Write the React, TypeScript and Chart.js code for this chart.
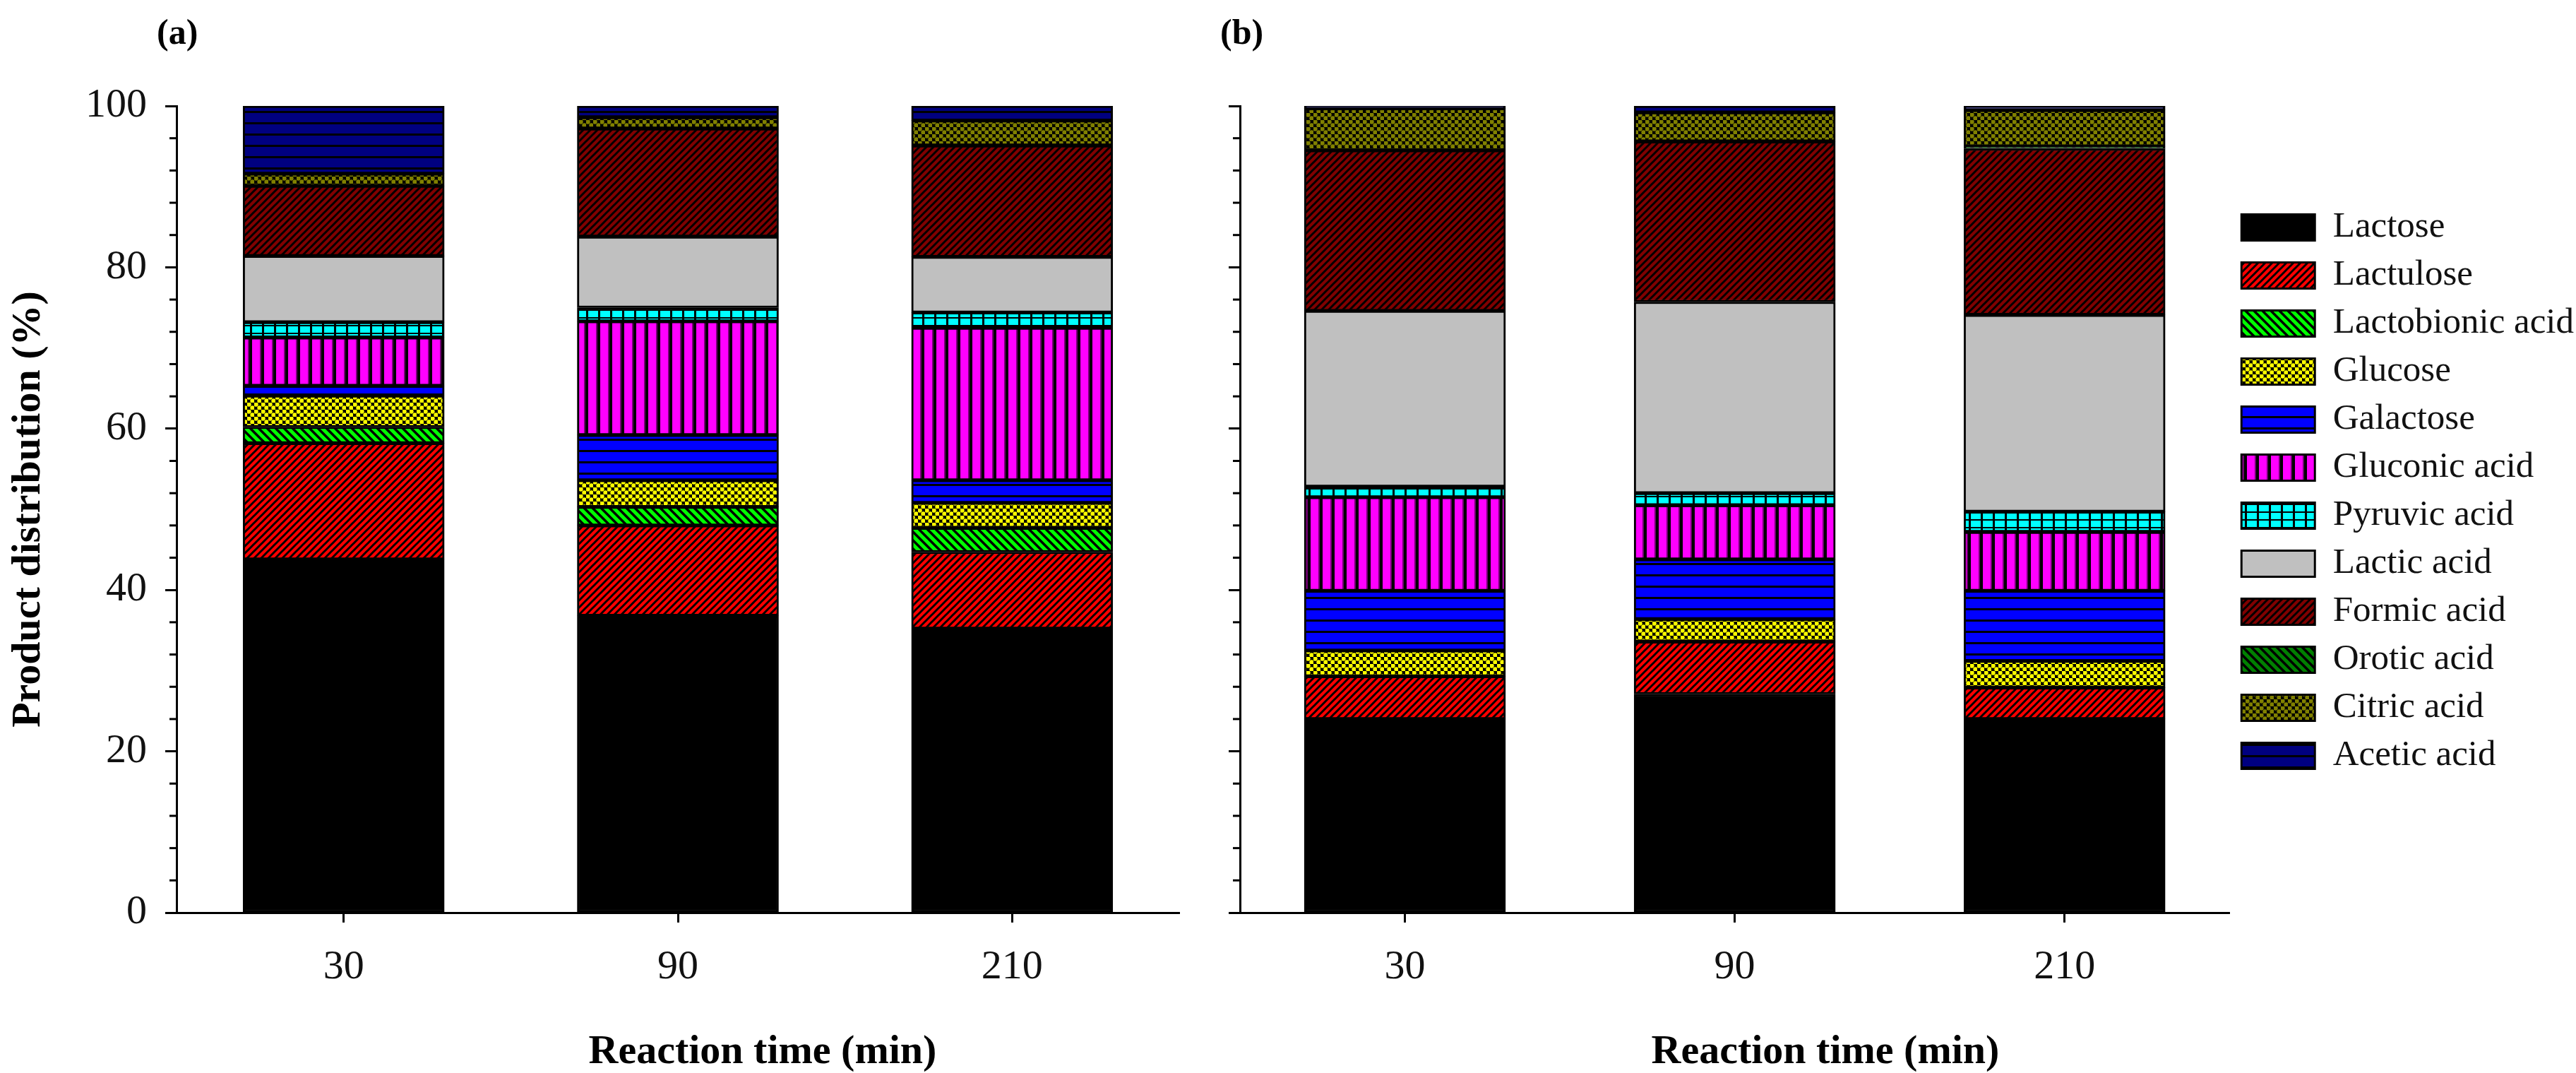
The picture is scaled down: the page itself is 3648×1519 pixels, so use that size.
import React, { useEffect, useRef } from 'react';
import { Chart, registerables } from 'chart.js';

Chart.register(...registerables);

// ---------------- data ----------------
const CATEGORIES = ['30', '90', '210'];
const SERIES_NAMES = [
  'Lactose',
  'Lactulose',
  'Lactobionic acid',
  'Glucose',
  'Galactose',
  'Gluconic acid',
  'Pyruvic acid',
  'Lactic acid',
  'Formic acid',
  'Orotic acid',
  'Citric acid',
  'Acetic acid',
];
const Y_MIN = 0;
const Y_MAX = 100;
const Y_MAJOR_STEP = 20;
const Y_MINOR_STEP = 4;

// Panel (a)
const A_LACTOSE = [43.8, 36.8, 35.2];
const A_LACTULOSE = [14.4, 11.2, 9.5];
const A_LACTOBIONIC = [2.0, 2.3, 3.0];
const A_GLUCOSE = [3.9, 3.3, 3.1];
const A_GALACTOSE = [1.2, 5.6, 2.8];
const A_GLUCONIC = [6.0, 14.1, 18.9];
const A_PYRUVIC = [1.9, 1.7, 1.9];
const A_LACTIC = [8.2, 8.8, 6.9];
const A_FORMIC = [8.7, 13.4, 13.8];
const A_OROTIC = [null, null, null];
const A_CITRIC = [1.5, 1.4, 3.1];
const A_ACETIC = [8.4, 1.4, 1.8];

// Panel (b)
const B_LACTOSE = [24.0, 27.1, 24.0];
const B_LACTULOSE = [5.3, 6.5, 3.9];
const B_LACTOBIONIC = [null, null, null];
const B_GLUCOSE = [3.2, 2.8, 3.3];
const B_GALACTOSE = [7.4, 7.4, 8.7];
const B_GLUCONIC = [11.6, 6.7, 7.3];
const B_PYRUVIC = [1.3, 1.5, 2.5];
const B_LACTIC = [21.8, 23.7, 24.4];
const B_FORMIC = [19.9, 19.9, 20.6];
const B_OROTIC = [null, null, 0.3];
const B_CITRIC = [5.2, 3.6, 4.5];
const B_ACETIC = [0.3, 0.8, 0.5];

const PANEL_A = [A_LACTOSE, A_LACTULOSE, A_LACTOBIONIC, A_GLUCOSE, A_GALACTOSE, A_GLUCONIC, A_PYRUVIC, A_LACTIC, A_FORMIC, A_OROTIC, A_CITRIC, A_ACETIC];
const PANEL_B = [B_LACTOSE, B_LACTULOSE, B_LACTOBIONIC, B_GLUCOSE, B_GALACTOSE, B_GLUCONIC, B_PYRUVIC, B_LACTIC, B_FORMIC, B_OROTIC, B_CITRIC, B_ACETIC];

// ---------------- styles ----------------
const FAMILY = "'Liberation Serif', 'Times New Roman', serif";
const SERIES_STYLE: { kind: string; color: string }[] = [
  { kind: 'solid', color: '#000000' },
  { kind: 'diagUp', color: '#ff0000' },
  { kind: 'diagDown', color: '#00ff00' },
  { kind: 'dots', color: '#ffff00' },
  { kind: 'horiz', color: '#0000ff' },
  { kind: 'vert', color: '#ff00ff' },
  { kind: 'grid', color: '#00ffff' },
  { kind: 'solid', color: '#c0c0c0' },
  { kind: 'diagUp', color: '#800000' },
  { kind: 'diagDown', color: '#008000' },
  { kind: 'dots', color: '#808000' },
  { kind: 'horiz', color: '#000080' },
];

function makePattern(kind: string, color: string): any {
  if (kind === 'solid') return color;
  const c = document.createElement('canvas');
  const g = c.getContext('2d') as CanvasRenderingContext2D;
  if (kind === 'diagUp') {
    const s = 10;
    c.width = s; c.height = s;
    g.fillStyle = color; g.fillRect(0, 0, s, s);
    g.strokeStyle = '#000'; g.lineWidth = 3;
    g.beginPath();
    g.moveTo(-2, s + 2); g.lineTo(s + 2, -2);
    g.moveTo(-2, 2); g.lineTo(2, -2);
    g.moveTo(s - 2, s + 2); g.lineTo(s + 2, s - 2);
    g.stroke();
  } else if (kind === 'diagDown') {
    const s = 12;
    c.width = s; c.height = s;
    g.fillStyle = color; g.fillRect(0, 0, s, s);
    g.strokeStyle = '#000'; g.lineWidth = 3.5;
    g.beginPath();
    g.moveTo(-2, -2); g.lineTo(s + 2, s + 2);
    g.moveTo(s - 2, -2); g.lineTo(s + 2, 2);
    g.moveTo(-2, s - 2); g.lineTo(2, s + 2);
    g.stroke();
  } else if (kind === 'dots') {
    const s = 10;
    c.width = s; c.height = s;
    g.fillStyle = '#000'; g.fillRect(0, 0, s, s);
    g.fillStyle = color;
    g.beginPath(); g.arc(2.5, 2.5, 3.2, 0, Math.PI * 2); g.fill();
    g.beginPath(); g.arc(7.5, 7.5, 3.2, 0, Math.PI * 2); g.fill();
  } else if (kind === 'horiz') {
    c.width = 8; c.height = 16;
    g.fillStyle = color; g.fillRect(0, 0, 8, 16);
    g.fillStyle = '#000'; g.fillRect(0, 13, 8, 3);
  } else if (kind === 'vert') {
    c.width = 17; c.height = 8;
    g.fillStyle = color; g.fillRect(0, 0, 17, 8);
    g.fillStyle = 'rgba(0,0,0,0.55)'; g.fillRect(11, 0, 2, 8);
    g.fillStyle = '#000'; g.fillRect(13, 0, 4, 8);
  } else if (kind === 'grid') {
    c.width = 17; c.height = 11;
    g.fillStyle = color; g.fillRect(0, 0, 17, 11);
    g.fillStyle = '#000';
    g.fillRect(14, 0, 3, 11);
    g.fillRect(0, 9, 17, 2);
  }
  return g.createPattern(c, 'repeat');
}

const minorTicksPlugin = {
  id: 'minorTicks',
  afterDraw(chart: any) {
    const y = chart.scales.y;
    const ctx = chart.ctx;
    const left = chart.chartArea.left;
    ctx.save();
    ctx.strokeStyle = '#000';
    ctx.lineWidth = 3;
    for (let v = Y_MIN + Y_MINOR_STEP; v < Y_MAX; v += Y_MINOR_STEP) {
      if (v % Y_MAJOR_STEP === 0) continue;
      const py = y.getPixelForValue(v);
      ctx.beginPath();
      ctx.moveTo(left - 10, py);
      ctx.lineTo(left, py);
      ctx.stroke();
    }
    ctx.restore();
  },
};

const LEGEND_WIDTH = 500;

function buildChart(canvas: HTMLCanvasElement, panel: (number | null)[][], opts: { yLabels: boolean; yWidth: number; padRight: number; legend: boolean }) {
  const patterns = SERIES_STYLE.map((s) => makePattern(s.kind, s.color));
  return new Chart(canvas, {
    type: 'bar',
    data: {
      labels: CATEGORIES,
      datasets: SERIES_NAMES.map((name, i) => ({
        label: name,
        data: panel[i] as any,
        backgroundColor: patterns[i],
        borderColor: '#000',
        borderWidth: 3,
        borderSkipped: false,
        barThickness: 285,
      })),
    },
    options: {
      responsive: false,
      animation: false,
      events: [],
      layout: { padding: { top: 150, left: 0, right: opts.padRight, bottom: 0 } },
      plugins: {
        title: { display: false },
        tooltip: { enabled: false },
        legend: opts.legend
          ? {
              display: true,
              position: 'right',
              align: 'start',
              maxWidth: LEGEND_WIDTH,
              title: { display: true, text: '', padding: { top: 119.5, bottom: 0 }, font: { size: 10, lineHeight: 1 } },
              labels: {
                boxWidth: 104,
                boxHeight: 37,
                padding: 17,
                color: '#111',
                font: { family: FAMILY, size: 51 },
              },
            }
          : { display: false },
      },
      scales: {
        x: {
          stacked: true,
          offset: true,
          grid: { display: true, drawOnChartArea: false, drawTicks: true, tickLength: 14, tickWidth: 3, tickColor: '#000', offset: false },
          border: { display: true, color: '#000', width: 3 },
          ticks: { font: { family: FAMILY, size: 58 }, color: '#111', padding: 29, maxRotation: 0, autoSkip: false },
          afterFit: (s: any) => { s.height = 227; },
        },
        y: {
          stacked: true,
          min: Y_MIN,
          max: Y_MAX,
          grid: { display: true, drawOnChartArea: false, drawTicks: true, tickLength: 16, tickWidth: 3, tickColor: '#000' },
          border: { display: true, color: '#000', width: 3 },
          ticks: { stepSize: Y_MAJOR_STEP, display: opts.yLabels, font: { family: FAMILY, size: 58 }, color: '#111', padding: 26 },
          title: opts.yLabels
            ? { display: true, text: 'Product distribution (%)', color: '#000', font: { family: FAMILY, size: 58, weight: 'bold', lineHeight: 1 }, padding: { top: 12, bottom: 0 } }
            : { display: false },
          afterFit: (s: any) => { s.width = opts.yWidth; },
        },
      },
    } as any,
    plugins: [minorTicksPlugin],
  });
}

const textStyle = (left: number, top: number, size: number, extra: any = {}): React.CSSProperties => ({
  position: 'absolute',
  left,
  top,
  fontFamily: FAMILY,
  fontWeight: 'bold',
  fontSize: size,
  lineHeight: `${size}px`,
  color: '#000',
  whiteSpace: 'nowrap',
  ...extra,
});

const B_LEFT = 1720;
const B_WIDTH = 1950;
const B_PLOT_RIGHT = 3155;

export default function App() {
  const refA = useRef<HTMLCanvasElement>(null);
  const refB = useRef<HTMLCanvasElement>(null);

  useEffect(() => {
    Chart.defaults.font.family = FAMILY;
    const a = buildChart(refA.current as HTMLCanvasElement, PANEL_A, { yLabels: true, yWidth: 250, padRight: 50, legend: false });
    const padRightB = B_LEFT + B_WIDTH - B_PLOT_RIGHT - LEGEND_WIDTH;
    const b = buildChart(refB.current as HTMLCanvasElement, PANEL_B, { yLabels: false, yWidth: 36, padRight: padRightB, legend: true });
    return () => {
      a.destroy();
      b.destroy();
    };
  }, []);

  return (
    <div style={{ position: 'absolute', left: 0, top: 0, width: 3648, height: 1519, background: '#fff', overflow: 'hidden' }}>
      <canvas ref={refA} width={1720} height={1519} style={{ position: 'absolute', left: 0, top: 0, width: 1720, height: 1519 }} />
      <canvas ref={refB} width={B_WIDTH} height={1519} style={{ position: 'absolute', left: B_LEFT, top: 0, width: B_WIDTH, height: 1519 }} />
      <div style={textStyle(222, 20, 50)}>(a)</div>
      <div style={textStyle(1728, 20, 50)}>(b)</div>
      <div style={textStyle(780, 1457, 58, { width: 600, textAlign: 'center' })}>Reaction time (min)</div>
      <div style={textStyle(2285, 1457, 58, { width: 600, textAlign: 'center' })}>Reaction time (min)</div>
    </div>
  );
}
